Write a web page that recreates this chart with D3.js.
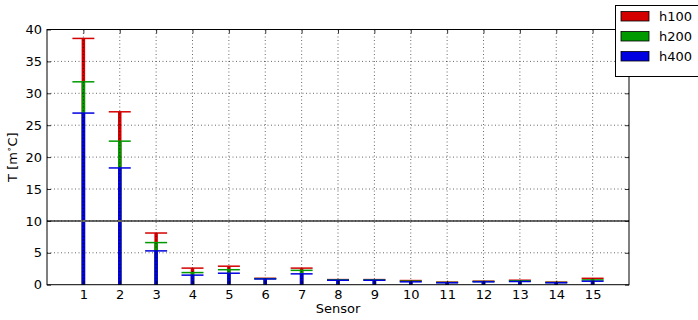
<!DOCTYPE html>
<html>
<head>
<meta charset="utf-8">
<script src="https://cdn.jsdelivr.net/npm/d3@7"></script>
<style>
  html, body { margin: 0; padding: 0; background: #fff; }
  svg { display: block; font-family: "DejaVu Sans", sans-serif; }
</style>
</head>
<body>
<svg id="chart" width="698" height="320"></svg>
<script>
// Sensor indices and measured values per heat setting
const sensors = [1, 2, 3, 4, 5, 6, 7, 8, 9, 10, 11, 12, 13, 14, 15];
const h100 = [38.6, 27.1, 8.1, 2.6, 2.9, 1.0, 2.6, 0.8, 0.8, 0.65, 0.4, 0.55, 0.7, 0.4, 1.0];
const h200 = [31.8, 22.5, 6.6, 1.9, 2.35, 0.95, 2.25, 0.75, 0.75, 0.55, 0.35, 0.5, 0.6, 0.35, 0.75];
const h400 = [26.9, 18.3, 5.3, 1.5, 1.8, 0.9, 1.7, 0.7, 0.7, 0.45, 0.3, 0.45, 0.5, 0.3, 0.55];
const yTicks = [0, 5, 10, 15, 20, 25, 30, 35, 40];
const refLine = 10;

const seriesList = [
  { name: "h100", values: h100, color: "#d40000" },
  { name: "h200", values: h200, color: "#009a00" },
  { name: "h400", values: h400, color: "#0000e0" }
];

const svg = d3.select("#chart");
const plotL = 47, plotR = 629, plotT = 29.5, plotB = 284.7;

const x = d3.scaleLinear().domain([0, 16]).range([plotL, plotR]);
const y = d3.scaleLinear().domain([0, 40]).range([plotB, plotT]);

// Bars drawn from zero with a cap at the top
const marks = svg.append("g");
seriesList.forEach(s => {
  const g = marks.append("g");
  g.selectAll("line.bar").data(sensors).join("line")
    .attr("x1", d => x(d)).attr("x2", d => x(d))
    .attr("y1", y(0)).attr("y2", (d, i) => y(s.values[i]))
    .attr("stroke", s.color).attr("stroke-width", 3.5);
  g.selectAll("line.cap").data(sensors).join("line")
    .attr("x1", d => x(d) - 11).attr("x2", d => x(d) + 11)
    .attr("y1", (d, i) => y(s.values[i])).attr("y2", (d, i) => y(s.values[i]))
    .attr("stroke", s.color).attr("stroke-width", 1.5);
});

// Reference line at 10
svg.append("line")
  .attr("x1", plotL).attr("x2", plotR)
  .attr("y1", y(refLine)).attr("y2", y(refLine))
  .attr("stroke", "#6a6a6a").attr("stroke-width", 2);

// Dotted grid
const grid = svg.append("g").attr("stroke", "#000").attr("stroke-width", 0.6)
  .attr("stroke-dasharray", "1,2.5");
grid.selectAll("line.v").data(sensors).join("line")
  .attr("x1", d => x(d)).attr("x2", d => x(d))
  .attr("y1", plotT).attr("y2", plotB);
grid.selectAll("line.h").data(yTicks.filter(t => t > 0 && t < 40)).join("line")
  .attr("x1", plotL).attr("x2", plotR)
  .attr("y1", d => y(d)).attr("y2", d => y(d));

// Axes with inward ticks
const yAxis = d3.axisLeft(y).tickValues(yTicks).tickSize(-4).tickPadding(5);
const yAxisR = d3.axisRight(y).tickValues(yTicks).tickSize(-4).tickFormat("");
const xAxis = d3.axisBottom(x).tickValues(sensors).tickSize(-4).tickPadding(5);
const xAxisT = d3.axisTop(x).tickValues(sensors).tickSize(-4).tickFormat("");

function style(g) {
  g.select(".domain").remove();
  g.selectAll(".tick line").attr("stroke", "#000").attr("stroke-width", 0.8);
  g.selectAll(".tick text").attr("fill", "#000").attr("font-size", 13)
    .attr("font-family", "DejaVu Sans, sans-serif");
}
svg.append("g").attr("transform", `translate(${plotL},0)`).call(yAxis).call(style);
svg.append("g").attr("transform", `translate(${plotR},0)`).call(yAxisR).call(style);
svg.append("g").attr("transform", `translate(0,${plotB})`).call(xAxis).call(style);
svg.append("g").attr("transform", `translate(0,${plotT})`).call(xAxisT).call(style);

// Frame
svg.append("rect").attr("x", plotL).attr("y", plotT)
  .attr("width", plotR - plotL).attr("height", plotB - plotT)
  .attr("fill", "none").attr("stroke", "#000").attr("stroke-width", 1);

// Axis titles
svg.append("text").attr("x", (plotL + plotR) / 2).attr("y", 313)
  .attr("text-anchor", "middle").attr("font-size", 13).text("Sensor");
const yl = svg.append("text")
  .attr("transform", `translate(17,${(plotT + plotB) / 2}) rotate(-90)`)
  .attr("text-anchor", "middle").attr("font-size", 13);
yl.append("tspan").text("T [m");
yl.append("tspan").attr("font-size", 9).attr("dy", -5).text("\u2218");
yl.append("tspan").attr("dy", 5).text("C]");

// Legend
const legend = svg.append("g").attr("transform", "translate(615,5)");
legend.append("rect").attr("x", 0.5).attr("y", 0.5).attr("width", 90).attr("height", 71)
  .attr("fill", "#fff").attr("stroke", "#000").attr("stroke-width", 1);
seriesList.forEach((s, i) => {
  legend.append("rect").attr("x", 6).attr("y", 6.5 + i * 20).attr("width", 28).attr("height", 9.5)
    .attr("fill", s.color).attr("stroke", "#000").attr("stroke-width", 0.8);
  legend.append("text").attr("x", 44).attr("y", 16 + i * 20)
    .attr("font-size", 13).text(s.name);
});
</script>
</body>
</html>
